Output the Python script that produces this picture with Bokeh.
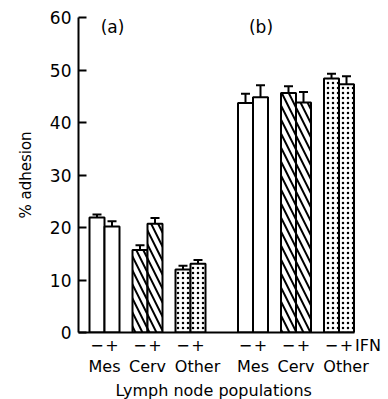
from bokeh.plotting import figure
from bokeh.models import (Range1d, LinearAxis, FixedTicker, Whisker, TeeHead,
                          ColumnDataSource, Label, Title)
from bokeh.embed import file_html
from bokeh.resources import INLINE

# ---- data ----
panel_labels = ["(a)", "(b)"]
populations = ["Mes", "Cerv", "Other"]
ifn_labels = ["\u2212", "+"]
a_minus = [21.9, 15.7, 12.0]
a_plus = [20.2, 20.7, 13.1]
a_minus_err = [0.6, 0.9, 0.7]
a_plus_err = [1.0, 1.1, 0.7]
b_minus = [43.7, 45.6, 48.4]
b_plus = [44.8, 43.8, 47.3]
b_minus_err = [1.8, 1.3, 0.9]
b_plus_err = [2.3, 2.0, 1.5]
y_ticks = [0, 10, 20, 30, 40, 50, 60]

FONT = "DejaVu Sans"
patterns = {"Mes": " ", "Cerv": "left_diagonal_line", "Other": "dot"}
scales = {"Mes": 8, "Cerv": 14, "Other": 5}
weights = {"Mes": 1, "Cerv": 2, "Other": 0.7}
label_shift = {"Mes": 0, "Cerv": 0, "Other": 7}

# ---- layout (in x-units) ----
bar_w = 15
first_center = 26
group_step = 43
panel_gap = 19.5

xs, tops, errs, pats, scl, wts = [], [], [], [], [], []
group_pos, group_names, bar_ticks, bar_tick_labels = [], [], [], []
panel_data = [(a_minus, a_plus, a_minus_err, a_plus_err),
              (b_minus, b_plus, b_minus_err, b_plus_err)]
for pi, (mn, pl, mne, ple) in enumerate(panel_data):
    for gi, pop in enumerate(populations):
        c = first_center + (pi * 3 + gi) * group_step + pi * panel_gap
        group_pos.append(c + label_shift[pop])
        group_names.append(pop)
        for k, (v, e) in enumerate([(mn[gi], mne[gi]), (pl[gi], ple[gi])]):
            x = c - bar_w / 2 if k == 0 else c + bar_w / 2
            xs.append(x); tops.append(v); errs.append(e)
            pats.append(patterns[pop]); scl.append(scales[pop]); wts.append(weights[pop])
            bar_ticks.append(x); bar_tick_labels.append(ifn_labels[k])

last_edge = xs[-1] + bar_w / 2
ifn_pos = last_edge + 14
bar_ticks.append(ifn_pos); bar_tick_labels.append("IFN")

src = ColumnDataSource(dict(x=xs, top=tops, upper=[t + e for t, e in zip(tops, errs)],
                            lower=[t - e for t, e in zip(tops, errs)],
                            pat=pats, scl=scl, wts=wts))

p = figure(width=388, height=399, output_backend="svg", toolbar_location=None,
           x_range=Range1d(0, 310), y_range=Range1d(0, 60),
           x_axis_location=None, y_axis_location=None,
           min_border_left=78, min_border_right=0, min_border_top=17,
           min_border_bottom=67)
p.outline_line_color = None
p.grid.visible = False
p.background_fill_color = "white"
p.border_fill_color = "white"

p.vbar(x="x", top="top", width=bar_w, bottom=0, source=src, fill_color="white",
       line_color="black", line_width=2, hatch_pattern="pat", hatch_scale="scl",
       hatch_weight="wts", hatch_color="black")

wh = Whisker(base="x", upper="upper", lower="lower", source=src,
             line_width=2, line_color="black",
             upper_head=TeeHead(size=9, line_width=2, line_color="black"),
             lower_head=TeeHead(size=9, line_width=2, line_color="black"))
p.add_layout(wh)

# y axis
yax = LinearAxis(ticker=FixedTicker(ticks=y_ticks), axis_label="% adhesion")
yax.axis_line_width = 2
yax.axis_line_color = "black"
yax.major_tick_line_width = 2
yax.major_tick_line_color = "black"
yax.major_tick_in = 8
yax.major_tick_out = 0
yax.minor_tick_line_color = None
yax.major_label_text_font = FONT
yax.major_label_text_font_size = "17px"
yax.major_label_text_color = "black"
yax.major_label_standoff = 7
yax.axis_label_text_font = FONT
yax.axis_label_text_font_size = "15px"
yax.axis_label_text_font_style = "normal"
yax.axis_label_text_color = "black"
yax.axis_label_standoff = 12
p.add_layout(yax, "left")

# x axis 0: baseline only
xax0 = LinearAxis(ticker=FixedTicker(ticks=[]))
xax0.bounds = (0, last_edge)
xax0.axis_line_width = 2
xax0.axis_line_color = "black"
xax0.major_tick_line_color = None
xax0.minor_tick_line_color = None
xax0.major_label_standoff = 0
xax0.major_tick_out = 0
xax0.major_tick_in = 0
p.add_layout(xax0, "below")

# x axis 1: - + labels
xax1 = LinearAxis(ticker=FixedTicker(ticks=bar_ticks),
                  major_label_overrides={t: l for t, l in zip(bar_ticks, bar_tick_labels)})
xax1.axis_line_color = None
xax1.major_tick_line_color = None
xax1.minor_tick_line_color = None
xax1.major_tick_out = 0
xax1.major_label_text_font = FONT
xax1.major_label_text_font_size = "16px"
xax1.major_label_text_color = "black"
xax1.major_label_standoff = 3
p.add_layout(xax1, "below")

# x axis 2: group names
xax2 = LinearAxis(ticker=FixedTicker(ticks=group_pos),
                  major_label_overrides={t: l for t, l in zip(group_pos, group_names)})
xax2.axis_line_color = None
xax2.major_tick_line_color = None
xax2.minor_tick_line_color = None
xax2.major_tick_out = 0
xax2.major_label_text_font = FONT
xax2.major_label_text_font_size = "16px"
xax2.major_label_text_color = "black"
xax2.major_label_standoff = -1
p.add_layout(xax2, "below")

# x title
xt = Title(text="Lymph node populations", align="left", offset=37,
           text_font=FONT, text_font_size="16px", text_font_style="normal",
           text_color="black", standoff=0)
p.add_layout(xt, "below")

# panel labels
for lab, gi in zip(panel_labels, [0, 3]):
    p.add_layout(Label(x=group_pos[gi] + 8, y=58.2, text=lab, text_align="center",
                       text_baseline="middle", text_font=FONT,
                       text_font_size="17px", text_color="black"))

open("out.html", "w").write(file_html(p, INLINE))
